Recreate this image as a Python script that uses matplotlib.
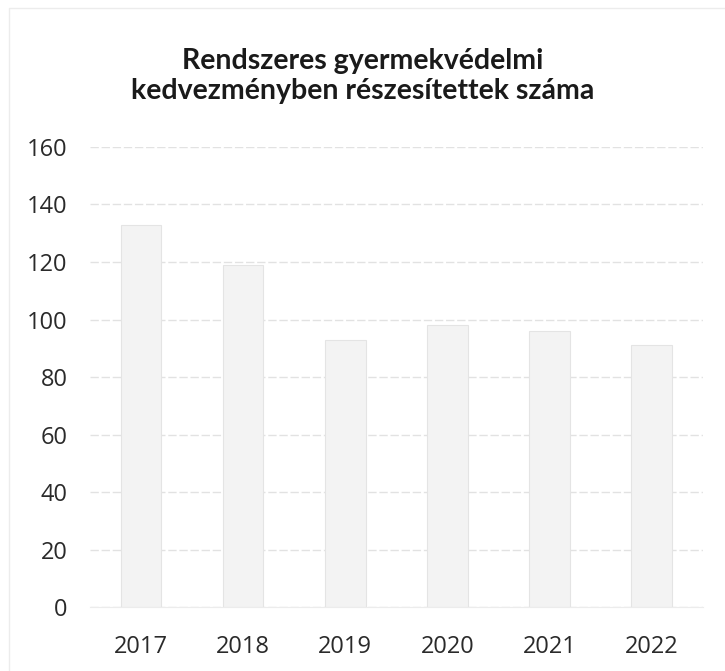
import matplotlib
matplotlib.use('Agg')
import matplotlib.pyplot as plt
from matplotlib.patches import Rectangle

years = ['2017', '2018', '2019', '2020', '2021', '2022']
recipients = [133, 119, 93, 98, 96, 91]
y_ticks = [0, 20, 40, 60, 80, 100, 120, 140, 160]

title = 'Rendszeres gyermekvédelmi\nkedvezményben részesítettek száma'

plt.rcParams['font.family'] = ['Open Sans', 'DejaVu Sans']

fig = plt.figure(figsize=(7.25, 6.71), dpi=100)
ax = fig.add_axes([0.124, 0.095, 0.845, 0.686])

x = range(len(years))
ax.bar(x, recipients, width=0.4, color='#f3f3f3', edgecolor='#e4e4e4', linewidth=0.8, zorder=2)

ax.set_ylim(0, 160)
ax.set_xlim(-0.5, len(years) - 0.5)
ax.set_yticks(y_ticks)
ax.set_xticks(list(x))
ax.set_xticklabels(years)
ax.tick_params(axis='y', length=0, pad=16, labelsize=17, labelcolor='#2a2a2a')
ax.tick_params(axis='x', length=0, pad=20, labelsize=17, labelcolor='#2a2a2a')
ax.grid(axis='y', color='#e2e2e2', linewidth=1, linestyle=(0, (6, 2)), zorder=0)
for side in ['top', 'right', 'left']:
    ax.spines[side].set_visible(False)
ax.spines['bottom'].set_color('#ececec')

fig.text(0.5, 0.887, title, ha='center', va='center', fontsize=20.5, fontweight='bold',
         family=['Lato', 'DejaVu Sans'], color='#1a1a1a', linespacing=1.2)

# faint frame of the scanned chart
fig.patches.append(Rectangle((0.012, -0.01), 1.0, 0.998, transform=fig.transFigure,
                             fill=False, edgecolor='#ececec', linewidth=1))

fig.savefig('out.png', dpi=100)
